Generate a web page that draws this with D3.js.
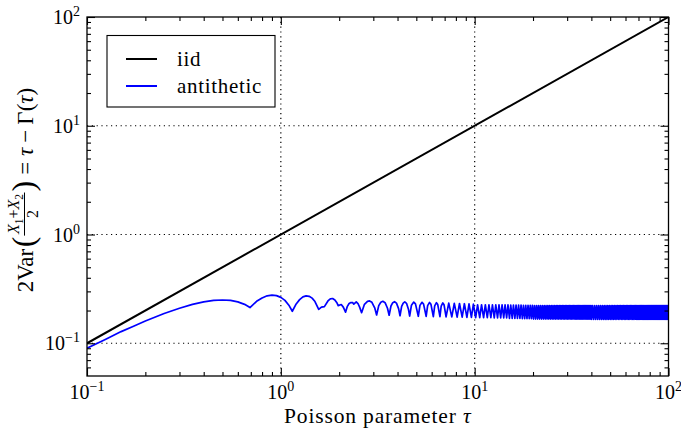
<!DOCTYPE html>
<html><head><meta charset="utf-8">
<script src="https://cdn.jsdelivr.net/npm/d3@7"></script>
<style>
body{margin:0;background:#fff;}
svg text{font-family:"Liberation Serif","Times New Roman",serif;fill:#000;}
</style></head><body>
<svg id="chart" width="681" height="436"></svg>
<script>
// ---------- data ----------
const xDomain = [0.1, 100];
const yDomain = [0.05, 100];
const xTickExps = [-1, 0, 1, 2];
const yTickExps = [-1, 0, 1, 2];
const legendLabels = ["iid", "antithetic"];
const seriesColors = ["#000000", "#0000ff"];

const iidTau = [0.1, 100];
const iidVal = [0.1, 100];

const antiTau = [
0.1,0.125,0.15,0.175,0.2,0.25,0.3,0.35,0.4,0.45,
0.5,0.55,0.6,0.65,0.693,0.75,0.8,0.85,0.9,0.95,
1.0,1.05,1.1,1.146,1.2,1.25,1.3,1.35,1.4,1.45,
1.5,1.568,1.62,1.678,1.75,1.8,1.85,1.9,1.95,1.977,
2.05,2.1,2.157,2.2,2.25,2.3,2.35,2.38,2.45,2.5,
2.55,2.61,2.7,2.8,2.87,2.95,3.05,3.12,3.2,3.28,
3.36,3.45,3.55,3.62,3.7,3.78,3.86,3.95,4.05,4.12,
4.2,4.28,4.36,4.45,4.55,4.62,4.72,4.85,4.95,5.12,
5.22,5.35,5.45,5.62,5.72,5.85,5.95,6.12,6.22,6.35,
6.45,6.62,6.72,6.85,6.95,7.12,7.35,7.62,7.85,8.12,
8.35,8.62,8.85,9.12,9.35,9.62,9.85];
const antiVal = [
0.090,0.109,0.128,0.144,0.160,0.188,0.210,0.228,0.240,0.248,
0.250,0.248,0.240,0.228,0.213,0.243,0.261,0.273,0.277,0.274,
0.264,0.248,0.224,0.197,0.230,0.252,0.267,0.273,0.270,0.260,
0.242,0.205,0.215,0.217,0.245,0.256,0.258,0.250,0.234,0.222,
0.227,0.215,0.193,0.217,0.232,0.237,0.236,0.229,0.240,0.232,
0.215,0.191,0.228,0.243,0.245,0.238,0.212,0.182,0.222,0.238,
0.243,0.236,0.210,0.181,0.220,0.236,0.241,0.234,0.208,0.179,
0.218,0.234,0.240,0.233,0.207,0.178,0.224,0.239,0.230,0.177,
0.223,0.238,0.229,0.177,0.222,0.237,0.228,0.176,0.221,0.236,
0.227,0.176,0.220,0.235,0.226,0.175,0.234,0.175,0.233,0.174,
0.232,0.174,0.231,0.173,0.230,0.173,0.229];

const bandTau = [
10.12,10.35,10.62,10.85,11.12,11.35,11.62,11.85,12.12,12.35,
12.62,12.85,13.12,13.35,13.62,13.85,14.12,14.35,14.62,14.85,
15.12,15.35,15.62,15.85,16.12,16.35,16.62,16.85,17.12,17.35,
17.62,17.85,18.12,18.35,18.62,18.85,19.12,19.35,19.62,19.85,
20.12,20.35,20.62,20.85,21.12,21.35,21.62,21.85,22.12,22.35,
22.62,22.85,23.12,23.35,23.62,23.85,24.12,24.35,24.62,24.85,
25.12,25.35,25.62,25.85,26.12,26.35,26.62,26.85,27.12,27.35,
27.62,27.85,28.12,28.35,28.62,28.85,29.12,29.35,29.62,29.85,
30.12,30.35,30.62,30.85,31.12,31.35,31.62,31.85,32.12,32.35,
32.62,32.85,33.12,33.35,33.62,33.85,34.12,34.35,34.62,34.85,
35.12,35.35,35.62,35.85,36.12,36.35,36.62,36.85,37.12,37.35,
37.62,37.85,38.12,38.35,38.62,38.85,39.12,39.35,39.62,39.85,
40.12,40.6,41.12,41.6,42.12,42.6,43.12,43.6,44.12,44.6,
45.12,45.6,46.12,46.6,47.12,47.6,48.12,48.6,49.12,49.6,
50.12,50.6,51.12,51.6,52.12,52.6,53.12,53.6,54.12,54.6,
55.12,55.6,56.12,56.6,57.12,57.6,58.12,58.6,59.12,59.6,
60.12,60.6,61.12,61.6,62.12,62.6,63.12,63.6,64.12,64.6,
65.12,65.6,66.12,66.6,67.12,67.6,68.12,68.6,69.12,69.6,
70.12,70.6,71.12,71.6,72.12,72.6,73.12,73.6,74.12,74.6,
75.12,75.6,76.12,76.6,77.12,77.6,78.12,78.6,79.12,79.6,
80.12,80.6,81.12,81.6,82.12,82.6,83.12,83.6,84.12,84.6,
85.12,85.6,86.12,86.6,87.12,87.6,88.12,88.6,89.12,89.6,
90.12,90.6,91.12,91.6,92.12,92.6,93.12,93.6,94.12,94.6,
95.12,95.6,96.12,96.6,97.12,97.6,98.12,98.6,99.12,99.6,
100];
const bandVal = [
0.172,0.226,0.172,0.226,0.172,0.226,0.172,0.226,0.172,0.226,
0.171,0.225,0.171,0.225,0.171,0.225,0.171,0.225,0.171,0.225,
0.169,0.224,0.169,0.224,0.169,0.224,0.169,0.224,0.169,0.224,
0.168,0.223,0.168,0.223,0.168,0.223,0.168,0.223,0.168,0.223,
0.167,0.222,0.167,0.222,0.167,0.222,0.167,0.222,0.167,0.222,
0.167,0.222,0.167,0.222,0.167,0.222,0.167,0.222,0.167,0.222,
0.167,0.222,0.167,0.222,0.167,0.222,0.167,0.222,0.167,0.222,
0.167,0.222,0.167,0.222,0.167,0.222,0.167,0.222,0.167,0.222,
0.167,0.222,0.167,0.222,0.167,0.222,0.167,0.222,0.167,0.222,
0.167,0.222,0.167,0.222,0.167,0.222,0.167,0.222,0.167,0.222,
0.167,0.222,0.167,0.222,0.167,0.222,0.167,0.222,0.167,0.222,
0.167,0.222,0.167,0.222,0.167,0.222,0.167,0.222,0.167,0.222,
0.166,0.222,0.166,0.222,0.166,0.222,0.166,0.222,0.166,0.222,
0.166,0.222,0.166,0.222,0.166,0.222,0.166,0.222,0.166,0.222,
0.166,0.222,0.166,0.222,0.166,0.222,0.166,0.222,0.166,0.222,
0.166,0.222,0.166,0.222,0.166,0.222,0.166,0.222,0.166,0.222,
0.166,0.222,0.166,0.222,0.166,0.222,0.166,0.222,0.166,0.222,
0.166,0.222,0.166,0.222,0.166,0.222,0.166,0.222,0.166,0.222,
0.166,0.222,0.166,0.222,0.166,0.222,0.166,0.222,0.166,0.222,
0.166,0.222,0.166,0.222,0.166,0.222,0.166,0.222,0.166,0.222,
0.166,0.222,0.166,0.222,0.166,0.222,0.166,0.222,0.166,0.222,
0.166,0.222,0.166,0.222,0.166,0.222,0.166,0.222,0.166,0.222,
0.166,0.222,0.166,0.222,0.166,0.222,0.166,0.222,0.166,0.222,
0.166,0.222,0.166,0.222,0.166,0.222,0.166,0.222,0.166,0.222,
0.195];

// ---------- layout ----------
const plot = {left: 87, right: 668.5, top: 17, bottom: 376};
const svg = d3.select("#chart");
const x = d3.scaleLog().domain(xDomain).range([plot.left, plot.right]);
const y = d3.scaleLog().domain(yDomain).range([plot.bottom, plot.top]);

function minorVals(dom) {
  const out = [];
  for (let e = Math.floor(Math.log10(dom[0])); e < Math.ceil(Math.log10(dom[1])); e++) {
    for (let k = 2; k <= 9; k++) {
      const v = k * Math.pow(10, e);
      if (v > dom[0] * 1.0001 && v < dom[1] * 0.9999) out.push(v);
    }
  }
  return out;
}
const xMajor = xTickExps.map(e => Math.pow(10, e));
const yMajor = yTickExps.map(e => Math.pow(10, e));
const xMinor = minorVals(xDomain);
const yMinor = minorVals(yDomain);

// grid
const grid = svg.append("g");
grid.selectAll("line.gx").data(xMajor.filter(v => v > xDomain[0] && v < xDomain[1])).join("line")
  .attr("x1", d => x(d)).attr("x2", d => x(d)).attr("y1", plot.top).attr("y2", plot.bottom)
  .attr("stroke", "#000").attr("stroke-width", 1.2).attr("stroke-dasharray", "1.2,3.6");
grid.selectAll("line.gy").data(yMajor.filter(v => v > yDomain[0] && v < yDomain[1])).join("line")
  .attr("y1", d => y(d)).attr("y2", d => y(d)).attr("x1", plot.left).attr("x2", plot.right)
  .attr("stroke", "#000").attr("stroke-width", 1.2).attr("stroke-dasharray", "1.2,3.6");

// clip
svg.append("clipPath").attr("id", "clip").append("rect")
  .attr("x", plot.left).attr("y", plot.top)
  .attr("width", plot.right - plot.left).attr("height", plot.bottom - plot.top);

const line = d3.line().x(d => x(d[0])).y(d => y(d[1]));
const lines = svg.append("g").attr("clip-path", "url(#clip)");
lines.append("path").datum(iidTau.map((t, i) => [t, iidVal[i]]))
  .attr("d", line).attr("fill", "none").attr("stroke", seriesColors[0]).attr("stroke-width", 2);
const antiAll = antiTau.map((t, i) => [t, antiVal[i]]).concat(bandTau.map((t, i) => [t, bandVal[i]]));
lines.append("path").datum(antiAll)
  .attr("d", line).attr("fill", "none").attr("stroke", seriesColors[1]).attr("stroke-width", 1.7)
  .attr("stroke-linejoin", "round");

// ticks via d3 axes (inward)
function tickAxis(gen, scale, vals, size, tr) {
  const g = svg.append("g").attr("transform", tr)
    .call(gen(scale).tickValues(vals).tickSize(size).tickSizeOuter(0).tickFormat(""));
  g.select(".domain").remove();
  g.selectAll(".tick line").attr("stroke", "#000").attr("stroke-width", 1.1);
}
tickAxis(d3.axisBottom, x, xMajor, -8, `translate(0,${plot.bottom})`);
tickAxis(d3.axisBottom, x, xMinor, -4, `translate(0,${plot.bottom})`);
tickAxis(d3.axisTop, x, xMajor, -8, `translate(0,${plot.top})`);
tickAxis(d3.axisTop, x, xMinor, -4, `translate(0,${plot.top})`);
tickAxis(d3.axisLeft, y, yMajor, -8, `translate(${plot.left},0)`);
tickAxis(d3.axisLeft, y, yMinor, -4, `translate(${plot.left},0)`);
tickAxis(d3.axisRight, y, yMajor, -8, `translate(${plot.right},0)`);
tickAxis(d3.axisRight, y, yMinor, -4, `translate(${plot.right},0)`);

// frame
svg.append("rect").attr("x", plot.left).attr("y", plot.top)
  .attr("width", plot.right - plot.left).attr("height", plot.bottom - plot.top)
  .attr("fill", "none").attr("stroke", "#000").attr("stroke-width", 1.3);

// tick labels
function powLabel(sel, e) {
  sel.append("tspan").text("10");
  sel.append("tspan").attr("font-size", 14).attr("dy", -8).text(e < 0 ? "\u2212" + Math.abs(e) : String(e));
}
xTickExps.forEach(e => {
  const t = svg.append("text").attr("x", x(Math.pow(10, e))).attr("y", 399)
    .attr("text-anchor", "middle").attr("font-size", 20);
  powLabel(t, e);
});
yTickExps.forEach(e => {
  const t = svg.append("text").attr("x", 80).attr("y", y(Math.pow(10, e)) + 7)
    .attr("text-anchor", "end").attr("font-size", 20);
  powLabel(t, e);
});

// x label
const xl = svg.append("text").attr("x", (plot.left + plot.right) / 2).attr("y", 423)
  .attr("text-anchor", "middle").attr("font-size", 21.5).attr("letter-spacing", 0.85);
xl.append("tspan").text("Poisson parameter ");
xl.append("tspan").attr("font-style", "italic").text("\u03C4");

// y label (rotated, built from pieces)
const yg = svg.append("g");
let cx = 0;
function piece(parts, size, ly, gapAfter) {
  const t = yg.append("text").attr("x", cx).attr("y", ly).attr("font-size", size);
  parts.forEach(p => {
    const s = t.append("tspan").text(p.t);
    if (p.i) s.attr("font-style", "italic");
    if (p.fs) s.attr("font-size", p.fs);
    if (p.dy) s.attr("dy", p.dy);
  });
  cx += t.node().getComputedTextLength() + (gapAfter || 0);
  return t;
}
const FS = 23;
piece([{t: "2Var"}], FS, 0, 1.5);
piece([{t: "("}], 32, 0.5, 1);
const fx = cx;
const num = yg.append("text").attr("y", -14).attr("font-size", 16);
[{t: "X", i: 1}, {t: "1", fs: 11.5, dy: 3.5}, {t: "+", dy: -3.5}, {t: "X", i: 1}, {t: "2", fs: 11.5, dy: 3.5}].forEach(p => {
  const s = num.append("tspan").text(p.t);
  if (p.i) s.attr("font-style", "italic");
  if (p.fs) s.attr("font-size", p.fs);
  if (p.dy) s.attr("dy", p.dy);
});
const nw = num.node().getComputedTextLength();
const den = yg.append("text").attr("y", 4.5).attr("font-size", 16).text("2");
const dw = den.node().getComputedTextLength();
const fw = Math.max(nw, dw) + 3;
num.attr("x", fx + (fw - nw) / 2);
den.attr("x", fx + (fw - dw) / 2);
yg.append("line").attr("x1", fx).attr("x2", fx + fw).attr("y1", -8.5).attr("y2", -8.5)
  .attr("stroke", "#000").attr("stroke-width", 1);
cx = fx + fw + 1;
piece([{t: ")"}], 32, 0.5, 6);
piece([{t: "="}], FS, 0, 6);
piece([{t: "\u03C4", i: 1}], FS, 0, 5);
piece([{t: "\u2212"}], FS, 0, 5);
piece([{t: "\u0393("}, {t: "\u03C4", i: 1}, {t: ")"}], FS, 0, 0);
const L = cx;
const yCenter = 190;
yg.attr("transform", `rotate(-90) translate(${-(yCenter + L / 2)},33)`);

// legend
const lg = svg.append("g");
lg.append("rect").attr("x", 107).attr("y", 35.5).attr("width", 168).attr("height", 71.5)
  .attr("fill", "#fff").attr("stroke", "#000").attr("stroke-width", 1.1);
legendLabels.forEach((lab, i) => {
  const ly = 59 + i * 27;
  lg.append("line").attr("x1", 126).attr("x2", 157).attr("y1", ly).attr("y2", ly)
    .attr("stroke", seriesColors[i]).attr("stroke-width", 2);
  lg.append("text").attr("x", 177).attr("y", ly + 6.5).attr("font-size", 21)
    .attr("letter-spacing", 0.7).text(lab);
});
</script>
</body></html>
